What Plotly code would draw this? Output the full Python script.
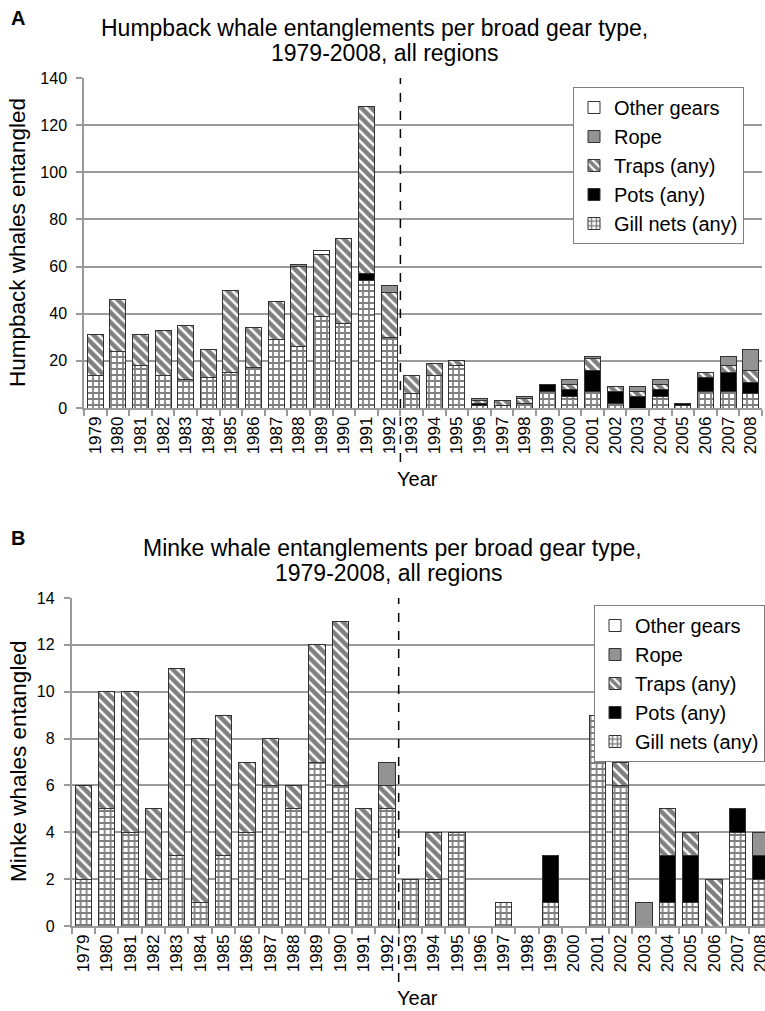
import plotly.graph_objects as go

years = [str(y) for y in range(1979, 2009)]
y_ticks_a = [0, 20, 40, 60, 80, 100, 120, 140]
y_ticks_b = [0, 2, 4, 6, 8, 10, 12, 14]

# Humpback (panel A)
hb_gill = [14, 24, 18, 14, 12, 13, 15, 17, 29, 26, 39, 36, 54, 30,
           6, 14, 18, 1, 1, 2, 7, 5, 7, 2, 0, 5, 1, 7, 7, 6]
hb_pots = [0, 0, 0, 0, 0, 0, 0, 0, 0, 0, 0, 0, 3, 0,
           0, 0, 0, 1, 0, 0, 3, 3, 9, 5, 5, 3, 1, 6, 8, 5]
hb_traps = [17, 22, 13, 19, 23, 12, 35, 17, 16, 34, 26, 36, 71, 19,
            8, 5, 2, 1, 2, 2, 0, 2, 5, 2, 2, 2, 0, 2, 3, 5]
hb_rope = [0, 0, 0, 0, 0, 0, 0, 0, 0, 1, 0, 0, 0, 3,
           0, 0, 0, 1, 0, 1, 0, 2, 1, 0, 2, 2, 0, 0, 4, 9]
hb_other = [0, 0, 0, 0, 0, 0, 0, 0, 0, 0, 2, 0, 0, 0,
            0, 0, 0, 0, 0, 0, 0, 0, 0, 0, 0, 0, 0, 0, 0, 0]

# Minke (panel B)
mk_gill = [2, 5, 4, 2, 3, 1, 3, 4, 6, 5, 7, 6, 2, 5,
           2, 2, 4, 0, 1, 0, 1, 0, 9, 6, 0, 1, 1, 0, 4, 2]
mk_pots = [0, 0, 0, 0, 0, 0, 0, 0, 0, 0, 0, 0, 0, 0,
           0, 0, 0, 0, 0, 0, 2, 0, 0, 0, 0, 2, 2, 0, 1, 1]
mk_traps = [4, 5, 6, 3, 8, 7, 6, 3, 2, 1, 5, 7, 3, 1,
            0, 2, 0, 0, 0, 0, 0, 0, 0, 1, 0, 2, 1, 2, 0, 0]
mk_rope = [0, 0, 0, 0, 0, 0, 0, 0, 0, 0, 0, 0, 0, 1,
           0, 0, 0, 0, 0, 0, 0, 0, 0, 0, 1, 0, 0, 0, 0, 1]
mk_other = [0] * 30

W, H = 765, 1011
FONT = "Liberation Sans"
GRID = "#9a9a9a"
OUTLINE = "#333333"


def nz(vals):
    return [v if v else None for v in vals]


styles = [
    ("Gill nets (any)", dict(color="white", pattern=dict(shape="+", fgcolor="black", bgcolor="white", size=6, solidity=0.5))),
    ("Pots (any)", dict(color="black")),
    ("Traps (any)", dict(color="white", pattern=dict(shape="\\", fgcolor="black", bgcolor="white", size=7, solidity=0.65))),
    ("Rope", dict(color="#939393")),
    ("Other gears", dict(color="white")),
]

fig = go.Figure()
for panel, series, xa, ya, lg in [
    ("A", [hb_gill, hb_pots, hb_traps, hb_rope, hb_other], "x", "y", "legend"),
    ("B", [mk_gill, mk_pots, mk_traps, mk_rope, mk_other], "x2", "y2", "legend2"),
]:
    for (name, mk), vals in zip(styles, series):
        marker = dict(mk)
        marker["line"] = dict(color=OUTLINE, width=1)
        fig.add_trace(go.Bar(x=years, y=nz(vals), name=name, marker=marker,
                             xaxis=xa, yaxis=ya, legend=lg, hoverinfo="x+y+name"))


def px_x(p):
    return p / W


def px_y(p):
    return 1 - p / H


axis_common = dict(showline=True, linecolor=GRID, linewidth=1.5, ticks="outside",
                   ticklen=6, tickcolor=GRID, tickwidth=1.5, automargin=False)
xfont = dict(family=FONT, size=17, color="black")
yfont = dict(family=FONT, size=16, color="black")

leg_common = dict(xanchor="left", yanchor="top", traceorder="reversed",
                  bgcolor="white", bordercolor="#808080", borderwidth=1,
                  font=dict(family=FONT, size=20, color="black"), tracegroupgap=0)

fig.update_layout(
    width=W, height=H, margin=dict(l=0, r=0, t=0, b=0),
    paper_bgcolor="white", plot_bgcolor="white",
    barmode="stack", bargap=0.3,
    font=dict(family=FONT, color="black"),
    xaxis=dict(domain=[px_x(84), px_x(762)], anchor="y", type="category",
               range=[-0.5, 29.5], tickangle=-90, tickson="boundaries",
               showgrid=False, tickfont=xfont, **axis_common),
    yaxis=dict(domain=[px_y(408), px_y(78)], anchor="x", range=[0, 140],
               tickvals=y_ticks_a, showgrid=True, gridcolor=GRID, gridwidth=1.5,
               zeroline=False, ticklabelstandoff=6, tickfont=yfont, **axis_common),
    xaxis2=dict(domain=[px_x(71.6), 1.0], anchor="y2", type="category",
                range=[-0.5, 29.18], tickangle=-90, tickson="boundaries",
                showgrid=False, tickfont=xfont, **axis_common),
    yaxis2=dict(domain=[px_y(926), px_y(598)], anchor="x2", range=[0, 14],
                tickvals=y_ticks_b, showgrid=True, gridcolor=GRID, gridwidth=1.5,
                zeroline=False, ticklabelstandoff=6, tickfont=yfont, **axis_common),
    legend=dict(x=px_x(573), y=px_y(87), **leg_common),
    legend2=dict(x=px_x(594), y=px_y(605), **leg_common),
)

# dashed separators between 1992 and 1993
for xr, y0, y1 in [("x", 78, 462), ("x2", 598, 982)]:
    fig.add_shape(type="line", xref=xr, yref="paper", x0=13.5, x1=13.5,
                  y0=px_y(y1), y1=px_y(y0),
                  line=dict(color="black", width=1.5, dash="dash"))


def text_ann(text, x, y, size, bold=False, angle=0):
    return dict(text=("<b>%s</b>" % text) if bold else text, x=px_x(x), y=px_y(y),
                xref="paper", yref="paper", xanchor="center", yanchor="middle",
                showarrow=False, textangle=angle,
                font=dict(family=FONT, size=size, color="black"))


ann = [
    text_ann("A", 18, 18, 20, bold=True),
    text_ann("Humpback whale entanglements per broad gear type,", 374, 28, 23),
    text_ann("1979-2008, all regions", 385, 53, 23),
    text_ann("Humpback whales entangled", 18, 243, 22.5, angle=-90),
    text_ann("Year", 418, 479, 20),
    text_ann("B", 18, 538, 20, bold=True),
    text_ann("Minke whale entanglements per broad gear type,", 393, 548, 23),
    text_ann("1979-2008, all regions", 389, 573, 23),
    text_ann("Minke whales entangled", 18, 762, 22.5, angle=-90),
    text_ann("Year", 418, 998, 20),
]
fig.update_layout(annotations=ann)

fig.write_html("out.html", config={"displayModeBar": False},
               post_script="document.body.style.margin='0px';document.body.style.overflow='hidden';")
